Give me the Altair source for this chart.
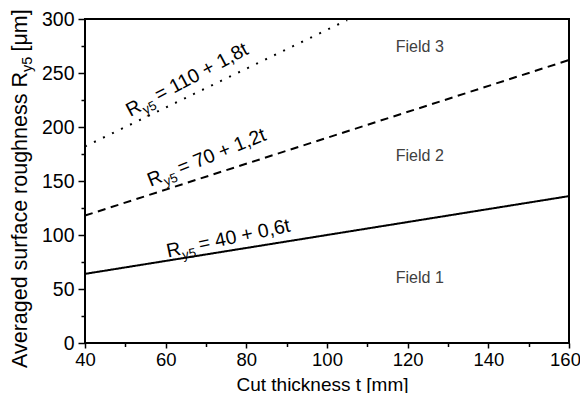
import altair as alt
import pandas as pd

# ---- data ----
line_t = [40, 160, 40, 160, 40, 105]
line_ry5 = [64, 136, 118, 262, 182, 299]
line_style = ["solid", "solid", "dashed", "dashed", "dotted", "dotted"]

x_major = [40, 60, 80, 100, 120, 140, 160]
x_minor = [50, 70, 90, 110, 130, 150]
y_major = [0, 50, 100, 150, 200, 250, 300]
y_minor = [25, 75, 125, 175, 225, 275]

field_names = ["Field 1", "Field 2", "Field 3"]
field_t = [123, 123, 123]
field_y = [60, 173, 274]

eq_text = ["= 40 + 0,6t", "= 70 + 1,2t", "= 110 + 1,8t"]
eq_t = [64.0, 59.5, 54.3]
eq_y = [81.8, 149.5, 215.5]
eq_angle = [348, 338, 332]

FONT = "Liberation Sans"

df_lines = pd.DataFrame({"t": line_t, "r": line_ry5, "style": line_style})
df_fields = pd.DataFrame({"t": field_t, "r": field_y, "name": field_names})
df_eq = pd.DataFrame({"t": eq_t, "r": eq_y, "text": eq_text, "angle": eq_angle})
df_one = pd.DataFrame({"a": [0]})

xscale = alt.Scale(domain=[40, 160], nice=False, zero=False)
yscale = alt.Scale(domain=[0, 300], nice=False, zero=False)

x_major_axis = alt.Axis(
    orient="bottom", values=x_major, tickSize=5, tickWidth=1.5, tickColor="black",
    labelFontSize=18.5, labelColor="black", labelFont=FONT, labelPadding=2,
    labelOffset={"condition": {"test": "datum.value == 160", "value": -4}, "value": 0},
    labelFlush=False, labelOverlap=False, domain=False, grid=False,
    title="Cut thickness t [mm]", titleFontSize=19, titleFontWeight="normal",
    titleFont=FONT, titleColor="black", titleX=237, titleY=47,
    titleBaseline="alphabetic",
)
y_major_axis = alt.Axis(
    orient="left", values=y_major, tickSize=7, tickWidth=1.5, tickColor="black",
    labelFontSize=19.5, labelColor="black", labelFont=FONT, labelPadding=4,
    labelFlush=False, labelOverlap=False, domain=False, grid=False, title=None,
)
x_minor_axis = alt.Axis(
    orient="bottom", values=x_minor, tickSize=3.5, tickWidth=1.5, tickColor="black",
    labels=False, domain=False, grid=False, title=None,
)
y_minor_axis = alt.Axis(
    orient="left", values=y_minor, tickSize=4, tickWidth=1.5, tickColor="black",
    labels=False, domain=False, grid=False, title=None,
)

lines = alt.Chart(df_lines).mark_line(strokeWidth=2, color="black").encode(
    x=alt.X("t:Q", scale=xscale, axis=x_major_axis),
    y=alt.Y("r:Q", scale=yscale, axis=y_major_axis),
    detail="style:N",
    strokeDash=alt.StrokeDash(
        "style:N",
        scale=alt.Scale(domain=["solid", "dashed", "dotted"],
                        range=[[1, 0], [8, 5.5], [2, 8]]),
        legend=None,
    ),
)

fields = alt.Chart(df_fields).mark_text(
    font=FONT, fontSize=16, color="#404040", align="center", baseline="middle"
).encode(
    x=alt.X("t:Q", scale=xscale, axis=x_minor_axis),
    y=alt.Y("r:Q", scale=yscale, axis=y_minor_axis),
    text="name:N",
)

eq_base = alt.Chart(df_eq).encode(
    x=alt.X("t:Q", scale=xscale, axis=None),
    y=alt.Y("r:Q", scale=yscale, axis=None),
    angle=alt.Angle("angle:Q", scale=None),
)
eq_R = eq_base.mark_text(font=FONT, fontSize=19.5, color="black",
                         align="right", baseline="alphabetic").encode(text=alt.value("R"))
eq_sub = eq_base.mark_text(font=FONT, fontSize=13, color="black", align="left",
                           baseline="alphabetic", dx=0.5, dy=5).encode(text=alt.value("y5"))
eq_main = eq_base.mark_text(font=FONT, fontSize=19.5, color="black", align="left",
                            baseline="alphabetic", dx=18.5).encode(text="text:N")

ytitle_base = alt.Chart(df_one)
yt1 = ytitle_base.mark_text(font=FONT, fontSize=21.5, color="black", align="right",
                            baseline="alphabetic", angle=270).encode(
    x=alt.value(-58.5), y=alt.value(53), text=alt.value("Averaged surface roughness R"))
yt2 = ytitle_base.mark_text(font=FONT, fontSize=14.5, color="black", align="left",
                            baseline="alphabetic", angle=270, dy=5).encode(
    x=alt.value(-58.5), y=alt.value(53), text=alt.value("y5"))
yt3 = ytitle_base.mark_text(font=FONT, fontSize=21.5, color="black", align="left",
                            baseline="alphabetic", angle=270, dx=20.5).encode(
    x=alt.value(-58.5), y=alt.value(53), text=alt.value("[\u03bcm]"))

chart = alt.layer(
    lines, fields, eq_R, eq_sub, eq_main, yt1, yt2, yt3
).resolve_axis(
    x="independent", y="independent"
).properties(
    width=484, height=324,
    autosize=alt.AutoSizeParams(type="none"),
    padding={"left": 77, "top": 11, "right": 11, "bottom": 50},
).configure_view(
    stroke="black", strokeWidth=2
)

chart.save("out.html", embed_options={"renderer": "svg", "actions": False})
